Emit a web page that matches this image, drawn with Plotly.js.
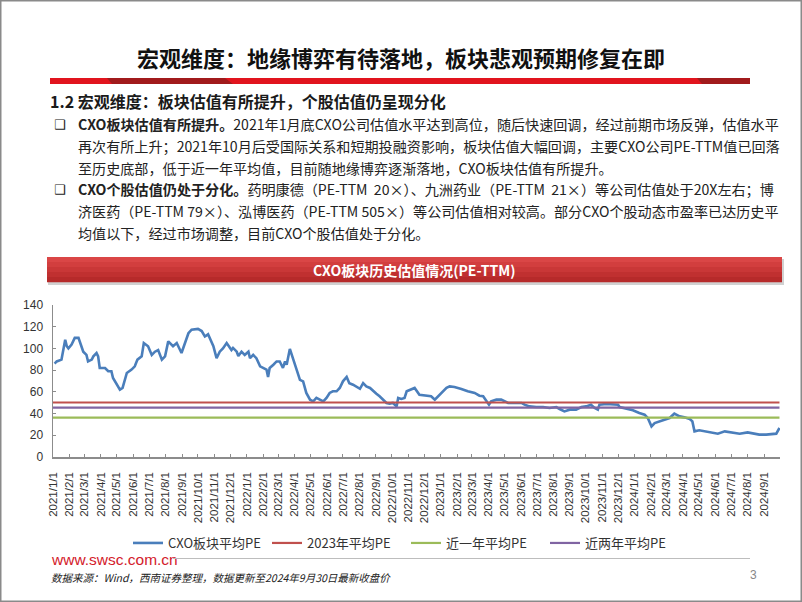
<!DOCTYPE html>
<html>
<head>
<meta charset="utf-8">
<script src="https://cdn.plot.ly/plotly-3.0.1.min.js"></script>
<style>
html,body{margin:0;padding:0;background:#fff;}
#wrap{position:relative;width:802px;height:602px;}
#chart{width:802px;height:602px;}
#footrule{position:absolute;left:173px;top:558px;width:577px;height:0;border-top:1.6px solid #bdbdbd;z-index:10;pointer-events:none;}
</style>
</head>
<body>
<div id="wrap"><div id="chart"></div><div id="footrule"></div></div>
<script>
// ---------------- DATA ----------------
const peDates = [
 '2021-01-04','2021-01-08','2021-01-17','2021-01-24','2021-01-27','2021-01-30','2021-02-05','2021-02-11','2021-02-18','2021-02-24',
 '2021-02-27','2021-03-05','2021-03-08','2021-03-15','2021-03-18','2021-03-24','2021-03-27','2021-03-30','2021-04-09','2021-04-15',
 '2021-04-21','2021-04-24','2021-05-01','2021-05-07','2021-05-12','2021-05-16','2021-05-20','2021-05-29','2021-06-04','2021-06-09',
 '2021-06-17','2021-06-21','2021-06-29','2021-07-06','2021-07-12','2021-07-18','2021-07-25','2021-07-31','2021-08-06','2021-08-15',
 '2021-08-22','2021-08-31','2021-09-06','2021-09-13','2021-09-19','2021-10-01','2021-10-08','2021-10-14','2021-10-20','2021-10-30',
 '2021-11-05','2021-11-11','2021-11-17','2021-11-24','2021-12-03','2021-12-06','2021-12-13','2021-12-16','2021-12-22','2021-12-28',
 '2022-01-04','2022-01-07','2022-01-13','2022-01-19','2022-01-26','2022-02-01','2022-02-07','2022-02-10','2022-02-13','2022-02-20',
 '2022-02-26','2022-03-04','2022-03-10','2022-03-14','2022-03-17','2022-03-23','2022-03-29','2022-04-05','2022-04-11','2022-04-17',
 '2022-04-23','2022-04-30','2022-05-06','2022-05-12','2022-05-18','2022-05-25','2022-05-31','2022-06-06','2022-06-12','2022-06-19',
 '2022-06-25','2022-07-01','2022-07-08','2022-07-13','2022-07-20','2022-07-26','2022-08-02','2022-08-08','2022-08-14','2022-08-21',
 '2022-08-27','2022-09-02','2022-09-08','2022-09-15','2022-09-21','2022-09-27','2022-10-03','2022-10-10','2022-10-13','2022-10-19',
 '2022-10-25','2022-10-29','2022-11-04','2022-11-13','2022-11-22','2022-12-05','2022-12-14','2022-12-21','2022-12-30','2023-01-12',
 '2023-01-18','2023-01-27','2023-02-09','2023-02-21','2023-03-06','2023-03-15','2023-03-22','2023-03-27','2023-04-02','2023-04-06',
 '2023-04-16','2023-04-25','2023-05-01','2023-05-08','2023-05-20','2023-06-02','2023-06-08','2023-06-17','2023-06-30','2023-07-13',
 '2023-07-25','2023-08-07','2023-08-13','2023-08-22','2023-09-01','2023-09-13','2023-09-23','2023-10-02','2023-10-11','2023-10-18',
 '2023-10-24','2023-10-27','2023-11-09','2023-11-21','2023-12-01','2023-12-04','2023-12-17','2023-12-29','2024-01-10','2024-01-20',
 '2024-01-26','2024-02-02','2024-02-08','2024-02-17','2024-02-27','2024-03-07','2024-03-16','2024-03-26','2024-04-04','2024-04-14',
 '2024-04-19','2024-04-23','2024-05-02','2024-05-15','2024-05-28','2024-06-06','2024-06-19','2024-07-04','2024-07-17','2024-08-01',
 '2024-08-14','2024-08-23','2024-09-05','2024-09-17','2024-09-24','2024-09-30'
];
const peValues = [
 86,88,89.7,108,102,100,103.5,109.7,109.7,102,
 97,94,88,89.7,92.7,95.8,92.7,82,82,79,
 79,72.8,66.6,62,63.6,69.7,77.4,80.5,83.5,89.7,
 92.7,105,102,94,97,98.5,89.7,92.7,106.5,102,
 105,95.8,103.5,114,117.3,118,116,111,113,102,
 91,97,100,105,98.5,100.5,97,93,97,94,
 97,91,94,91,83.5,82,80.5,73.7,82,85,
 88,88,82,88,85,99.5,91,79,71,69.7,
 59,52.8,51.3,54.4,52.8,51.3,54.4,59,60.5,60.5,
 63.6,69.7,73.7,68,66.6,65,62.8,68,65,63.6,
 60.5,58.3,55.9,52.8,49.8,49.2,49.8,46.6,54.4,53.5,
 54.4,60.5,62,63.6,57.4,56.5,55.9,52.8,57.4,63.6,
 65,64.5,62.7,60.5,59,56.5,55.9,52.8,48.2,51.3,
 52.8,52.8,51.3,49.8,49.8,49.8,48.2,46.6,46,46,
 45.1,46,44.2,42,43.6,43.6,46,46.6,48.2,45.1,
 43.6,48.2,48.8,48.2,48.2,46,44.2,43,40.5,39,
 35.9,28.2,31.3,32.8,34.4,35.9,39.9,37.4,36.5,35,
 32.8,23.6,24.6,23.6,22.7,21.5,23.6,22.7,21.5,22.7,
 21.5,20.6,20.6,21.2,21.5,26.7
];
const avgSpan = ['2021-01-01', '2024-09-30'];
const avg2023 = 50.2;      // 2023年平均PE
const avgOneYear = 36.2;   // 近一年平均PE
const avgTwoYear = 45.4;   // 近两年平均PE
const seriesNames = ['CXO板块平均PE', '2023年平均PE', '近一年平均PE', '近两年平均PE'];
const tickLabels = [
 '2021/1/1','2021/2/1','2021/3/1','2021/4/1','2021/5/1','2021/6/1','2021/7/1','2021/8/1','2021/9/1','2021/10/1','2021/11/1','2021/12/1',
 '2022/1/1','2022/2/1','2022/3/1','2022/4/1','2022/5/1','2022/6/1','2022/7/1','2022/8/1','2022/9/1','2022/10/1','2022/11/1','2022/12/1',
 '2023/1/1','2023/2/1','2023/3/1','2023/4/1','2023/5/1','2023/6/1','2023/7/1','2023/8/1','2023/9/1','2023/10/1','2023/11/1','2023/12/1',
 '2024/1/1','2024/2/1','2024/3/1','2024/4/1','2024/5/1','2024/6/1','2024/7/1','2024/8/1','2024/9/1'
];
const tickVals = tickLabels.map(s => s.replace(/\//g, '-'));

// ---------------- LAYOUT HELPERS ----------------
const PW = 802, PH = 602;
const M = {l: 53, r: 22, t: 305, b: 145};
const W = PW - M.l - M.r, H = PH - M.t - M.b;
const px = x => (x - M.l) / W;
const py = y => (PH - M.b - y) / H;

const traces = [
  {x: peDates, y: peValues, name: seriesNames[0], type: 'scatter', mode: 'lines',
   line: {color: '#4A7EBB', width: 2.6}},
  {x: avgSpan, y: [avg2023, avg2023], name: seriesNames[1], type: 'scatter', mode: 'lines',
   line: {color: '#C0504D', width: 2.2}},
  {x: avgSpan, y: [avgOneYear, avgOneYear], name: seriesNames[2], type: 'scatter', mode: 'lines',
   line: {color: '#9BBB59', width: 2.2}},
  {x: avgSpan, y: [avgTwoYear, avgTwoYear], name: seriesNames[3], type: 'scatter', mode: 'lines',
   line: {color: '#8064A2', width: 2.2}}
];

const shapes = [];
function rect(x0, y0, x1, y1, fill, extra) {
  shapes.push(Object.assign({type: 'rect', xref: 'paper', yref: 'paper', x0: px(x0), x1: px(x1), y0: py(y1), y1: py(y0),
    line: {width: 0}, fillcolor: fill}, extra || {}));
}
// slide border
shapes.push({type: 'rect', xref: 'paper', yref: 'paper', x0: px(0.75), x1: px(801.25), y0: py(601.25), y1: py(0.75),
  line: {color: '#8a8a8a', width: 1.5}, fillcolor: 'rgba(0,0,0,0)', layer: 'below'});
// red title bar
rect(50, 78, 750, 84, '#E1141E');
function poly(pts) {
  return 'M' + pts.map(p => px(p[0]) + ',' + py(p[1])).join(' L') + ' Z';
}
shapes.push({type: 'path', xref: 'paper', yref: 'paper', path: poly([[107,78],[225,78],[233,84],[112,84]]),
  line: {width: 0}, fillcolor: '#A11A1C'});
shapes.push({type: 'path', xref: 'paper', yref: 'paper', path: poly([[697,78],[750,78],[750,84],[702,84]]),
  line: {width: 0}, fillcolor: '#A11A1C'});
// banner shadow
rect(48, 259, 784, 285, 'rgba(0,0,0,0.18)');
// banner gradient bands
const bandColors = ['#DA4646', '#D23E3E', '#C93737', '#C03030', '#B62A2A'];
for (let i = 0; i < bandColors.length; i++) {
  rect(47, 257 + i * 5, 782, 257 + (i + 1) * 5 + 0.3, bandColors[i]);
}

const CJK = '"Noto Sans CJK SC", "Noto Sans", sans-serif';
const ann = [];
function A(text, x, y, size, opts) {
  ann.push(Object.assign({text: text, xref: 'paper', yref: 'paper', x: px(x), y: py(y), showarrow: false,
    xanchor: 'left', yanchor: 'middle', font: {family: CJK, size: size, color: '#222'}}, opts || {}));
}
A('<b>宏观维度：地缘博弈有待落地，板块悲观预期修复在即</b>', 401, 57, 22, {xanchor: 'center', font: {family: CJK, size: 22, color: '#111'}});
A('<b>1.2 宏观维度：板块估值有所提升，个股估值仍呈现分化</b>', 48, 101, 16, {font: {family: CJK, size: 16, color: '#1a1a1a'}});
const bulletFont = {family: '"DejaVu Sans", sans-serif', size: 13, color: '#222'};
A('❑', 52, 124, 13, {font: bulletFont});
A('❑', 52, 189, 13, {font: bulletFont});
const lines1 = [
 '<b>CXO板块估值有所提升。</b>2021年1月底CXO公司估值水平达到高位，随后快速回调，经过前期市场反弹，估值水平',
 '再次有所上升；2021年10月后受国际关系和短期投融资影响，板块估值大幅回调，主要CXO公司PE-TTM值已回落',
 '至历史底部，低于近一年平均值，目前随地缘博弈逐渐落地，CXO板块估值有所提升。'
];
const lines2 = [
 '<b>CXO个股估值仍处于分化。</b>药明康德（PE-TTM  20×）、九洲药业（PE-TTM  21×）等公司估值处于20X左右；博',
 '济医药（PE-TTM 79×）、泓博医药（PE-TTM 505×）等公司估值相对较高。部分CXO个股动态市盈率已达历史平',
 '均值以下，经过市场调整，目前CXO个股估值处于分化。'
];
lines1.forEach((t, i) => A(t, 76, 124 + i * 22, 14.1));
lines2.forEach((t, i) => A(t, 76, 189 + i * 22, 14.1));
A('<b>CXO板块历史估值情况(PE-TTM)</b>', 414, 270, 14, {xanchor: 'center', font: {family: CJK, size: 14, color: '#ffffff'}});
A('www.swsc.com.cn', 49, 559, 15.5, {font: {family: '"Liberation Sans", Arial, sans-serif', size: 15.5, color: '#D3202A'}});
A('<i>数据来源：Wind，西南证券整理，数据更新至2024年9月30日最新收盘价</i>', 49, 577, 10.5, {font: {family: CJK, size: 10.5, color: '#222'}});
A('3', 748, 575, 12, {font: {family: '"Liberation Sans", Arial, sans-serif', size: 12, color: '#888'}});

const layout = {
  width: PW, height: PH,
  margin: Object.assign({autoexpand: false, pad: 0}, M),
  paper_bgcolor: '#ffffff', plot_bgcolor: '#ffffff',
  showlegend: true,
  legend: {orientation: 'h', x: px(128), y: py(543), xanchor: 'left', yanchor: 'middle',
    font: {family: CJK, size: 13, color: '#333'}, entrywidth: 94, entrywidthmode: 'pixels',
    bgcolor: 'rgba(0,0,0,0)', itemwidth: 30, tracegroupgap: 0},
  xaxis: {type: 'date', range: ['2021-01-01', '2024-10-01'], tickmode: 'array', tickvals: tickVals, ticktext: tickLabels,
    tickangle: -90, ticks: 'inside', ticklen: 3, tickcolor: '#8c8c8c', showgrid: false, zeroline: false,
    showline: true, linecolor: '#8c8c8c', linewidth: 1.5, ticklabelstandoff: 9,
    tickfont: {family: '"Liberation Sans", Arial, sans-serif', size: 11.5, color: '#333'}},
  yaxis: {range: [0, 140], dtick: 20, tick0: 0, ticks: 'inside', ticklen: 3, tickcolor: '#8c8c8c', showgrid: false,
    zeroline: false, showline: true, linecolor: '#8c8c8c', linewidth: 1.5, ticklabelstandoff: 6,
    tickfont: {family: '"Liberation Sans", Arial, sans-serif', size: 12, color: '#333'}},
  shapes: shapes,
  annotations: ann
};

Plotly.newPlot('chart', traces, layout, {displayModeBar: false, staticPlot: true});
</script>
</body>
</html>
